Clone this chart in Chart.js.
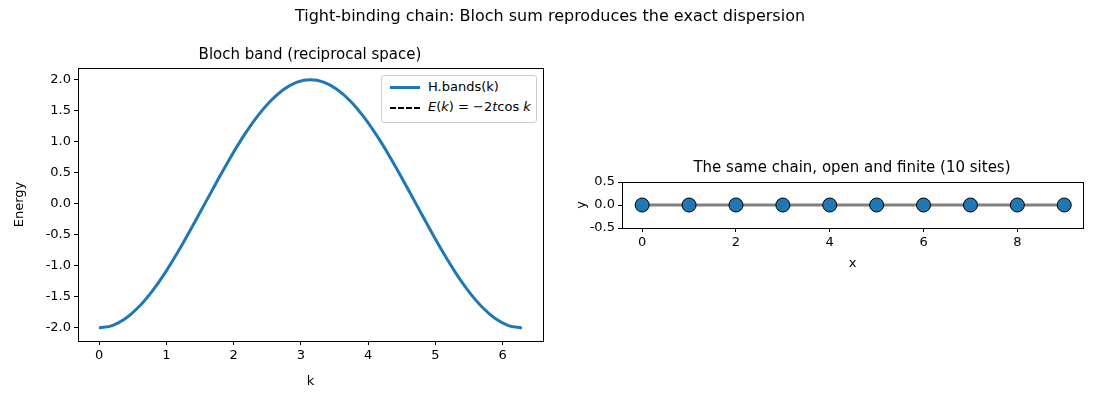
<!DOCTYPE html>
<html><head><meta charset="utf-8">
<script src="https://cdn.jsdelivr.net/npm/chart.js@4/dist/chart.umd.min.js"></script>
<style>
body{margin:0;background:#fff;font-family:"DejaVu Sans",sans-serif;}
#wrap{position:relative;width:1100px;height:400px;}
canvas{position:absolute;left:0;top:0;}
.t{position:absolute;color:#000;white-space:nowrap;transform:translateX(-50%);}
#legend{position:absolute;left:381px;top:75px;width:154px;height:46px;border:1px solid #ccc;border-radius:3px;background:#fff;font-size:13px;}
.li{position:absolute;left:8px;}
.sw{position:absolute;left:8px;width:30px;}
</style></head><body>
<div id="wrap">
<canvas id="c1" width="1100" height="400"></canvas>
<canvas id="c2" width="1100" height="400"></canvas>
<div class="t" style="left:550px;top:6px;font-size:16px;">Tight-binding chain: Bloch sum reproduces the exact dispersion</div>
<div class="t" style="left:310px;top:45px;font-size:15px;">Bloch band (reciprocal space)</div>
<div class="t" style="left:852px;top:158px;font-size:15px;">The same chain, open and finite (10 sites)</div>
<div id="legend">
<div class="sw" style="top:10px;border-top:3px solid #1f77b4;"></div><div class="li" style="left:46px;top:3px;">H.bands(k)</div>
<div class="sw" style="top:31px;border-top:2px dashed #000;"></div><div class="li" style="left:46px;top:23px;"><i>E</i>(<i>k</i>) = −2<i>t</i>cos <i>k</i></div>
</div>
</div>
<script>
const kValues=[0,0.196,0.393,0.589,0.785,0.982,1.178,1.374,1.571,1.767,1.963,2.160,2.356,2.553,2.749,2.945,3.142,3.338,3.534,3.731,3.927,4.123,4.320,4.516,4.712,4.909,5.105,5.301,5.498,5.694,5.890,6.087,6.283];
const energyValues=[-2,-1.962,-1.848,-1.663,-1.414,-1.111,-0.765,-0.390,0,0.390,0.765,1.111,1.414,1.663,1.848,1.962,2,1.962,1.848,1.663,1.414,1.111,0.765,0.390,0,-0.390,-0.765,-1.111,-1.414,-1.663,-1.848,-1.962,-2];
const siteX=[0,1,2,3,4,5,6,7,8,9];
const siteY=[0,0,0,0,0,0,0,0,0,0];
const bandXTicks=[0,1,2,3,4,5,6];
const bandYTicks=[-2,-1.5,-1,-0.5,0,0.5,1,1.5,2];
const chainXTicks=[0,2,4,6,8];
const chainYTicks=[-0.5,0,0.5];

const font={family:"DejaVu Sans",size:13};
const frame={id:'frame',afterDraw(c){const a=c.chartArea,x=c.ctx;x.save();x.strokeStyle='#000';x.lineWidth=1;x.strokeRect(a.left+0.5,a.top+0.5,a.right-a.left,a.bottom-a.top);x.restore();}};
function ax(ticks,fmt,title,min,max,size,isY){
 return {type:'linear',min,max,
  afterBuildTicks:s=>{s.ticks=ticks.map(v=>({value:v}));},
  afterFit:s=>{if(isY)s.width=size;else s.height=size;},
  grid:{drawOnChartArea:false,drawTicks:true,tickLength:4,color:'#000'},
  border:{display:false},
  ticks:{color:'#000',font,padding:3,maxRotation:0,autoSkip:false,callback:fmt},
  title:{display:true,text:title,color:'#000',font,padding:2}};
}
const pts=(xs,ys)=>xs.map((x,i)=>({x,y:ys[i]}));
new Chart(document.getElementById('c1'),{type:'line',
 data:{datasets:[
  {data:pts(kValues,energyValues),borderColor:'#1f77b4',borderWidth:3,pointRadius:0,cubicInterpolationMode:'monotone'},
  {data:pts(kValues,energyValues),borderColor:'#000',borderWidth:1.5,borderDash:[5,3],pointRadius:0,cubicInterpolationMode:'monotone'}]},
 options:{responsive:false,animation:false,events:[],
  layout:{padding:{left:10,top:68,right:557,bottom:9}},
  plugins:{legend:{display:false},tooltip:{enabled:false}},
  scales:{x:ax(bandXTicks,v=>String(v),'k',-0.313,6.6,50,false),
          y:ax(bandYTicks,v=>v.toFixed(1),'Energy',-2.21,2.19,68,true)}},
 plugins:[frame]});
new Chart(document.getElementById('c2'),{type:'line',
 data:{datasets:[
  {data:pts(siteX,siteY),borderColor:'#808080',borderWidth:3,pointRadius:7,pointBackgroundColor:'#1f77b4',pointBorderColor:'#000',pointBorderWidth:1}]},
 options:{responsive:false,animation:false,events:[],
  layout:{padding:{left:572,top:182,right:17,bottom:127}},
  plugins:{legend:{display:false},tooltip:{enabled:false}},
  scales:{x:ax(chainXTicks,v=>String(v),'x',-0.43,9.4,45,false),
          y:ax(chainYTicks,v=>v.toFixed(1),'y',-0.5,0.5,50,true)}},
 plugins:[frame]});
</script></body></html>
